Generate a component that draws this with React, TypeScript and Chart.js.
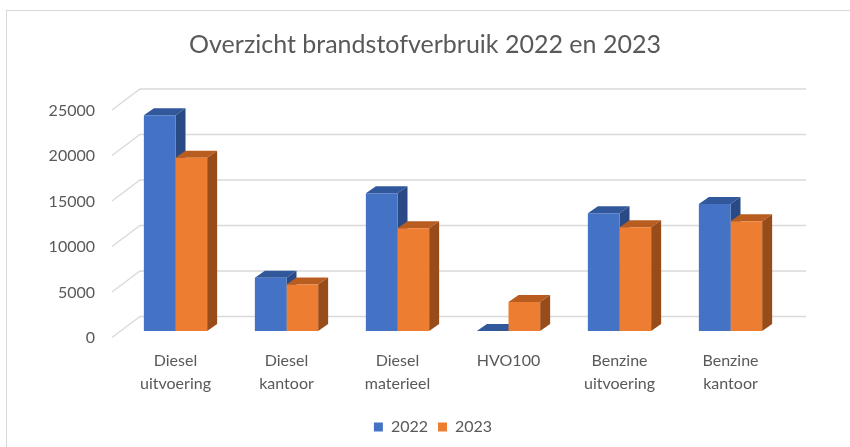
import React, { useEffect, useRef } from "react";
import { Chart, registerables } from "chart.js";

Chart.register(...registerables);

const categories: string[][] = [
  ["Diesel", "uitvoering"],
  ["Diesel", "kantoor"],
  ["Diesel", "materieel"],
  ["HVO100"],
  ["Benzine", "uitvoering"],
  ["Benzine", "kantoor"],
];
const values2022: number[] = [23700, 5850, 15150, 0, 12950, 13950];
const values2023: number[] = [19050, 5100, 11300, 3200, 11400, 12050];
const seriesNames: string[] = ["2022", "2023"];
const yTicks: number[] = [0, 5000, 10000, 15000, 20000, 25000];

const FONT = "Lato, 'Liberation Sans', sans-serif";
const TEXT = "#595959";
const GRID = "#D9D9D9";
const DX = 10;
const DY = -7;
const WALL_FRONT = { x: -8, y: 6.5 };
const WALL_BACK = { x: 20, y: -14.5 };
const LEGEND_SHIFT = 4;
const faceColors = [
  { top: "#30589A", side: "#294A84" },
  { top: "#B95C20", side: "#984C1A" },
];

const threeD = {
  id: "threeD",
  afterLayout(chart: any) {
    const lg = chart.legend;
    if (lg) {
      lg.left += LEGEND_SHIFT * 2;
      lg.right += LEGEND_SHIFT * 2;
    }
  },
  beforeDatasetsDraw(chart: any) {
    const { ctx, chartArea, scales } = chart;
    const ys = scales.y;
    ctx.save();
    ctx.strokeStyle = GRID;
    ctx.lineWidth = 1.3;
    for (const v of yTicks) {
      const py = ys.getPixelForValue(v);
      ctx.beginPath();
      ctx.moveTo(chartArea.left + WALL_FRONT.x, py + WALL_FRONT.y);
      ctx.lineTo(chartArea.left + WALL_BACK.x, py + WALL_BACK.y);
      ctx.lineTo(chartArea.right + WALL_BACK.x, py + WALL_BACK.y);
      ctx.stroke();
    }
    chart.data.datasets.forEach((_ds: any, di: number) => {
      const meta = chart.getDatasetMeta(di);
      meta.data.forEach((el: any) => {
        const p = el.getProps(["x", "y", "base", "width"], true);
        const L = p.x - p.width / 2;
        const R = p.x + p.width / 2;
        const T = Math.min(p.y, p.base);
        const B = Math.max(p.y, p.base);
        ctx.fillStyle = faceColors[di].top;
        ctx.beginPath();
        ctx.moveTo(L, T);
        ctx.lineTo(L + DX, T + DY);
        ctx.lineTo(R + DX, T + DY);
        ctx.lineTo(R, T);
        ctx.closePath();
        ctx.fill();
        ctx.fillStyle = faceColors[di].side;
        ctx.beginPath();
        ctx.moveTo(R, T);
        ctx.lineTo(R + DX, T + DY);
        ctx.lineTo(R + DX, B + DY);
        ctx.lineTo(R, B);
        ctx.closePath();
        ctx.fill();
      });
    });
    ctx.restore();
  },
};

export default function App() {
  const ref = useRef<HTMLCanvasElement>(null);
  useEffect(() => {
    document.body.style.margin = "0";
    const chart = new Chart(ref.current!, {
      type: "bar",
      data: {
        labels: categories,
        datasets: [
          {
            label: seriesNames[0],
            data: values2022,
            backgroundColor: "#4472C4",
            categoryPercentage: 0.57,
            barPercentage: 1,
          },
          {
            label: seriesNames[1],
            data: values2023,
            backgroundColor: "#ED7D31",
            categoryPercentage: 0.57,
            barPercentage: 1,
          },
        ],
      },
      options: {
        animation: false,
        responsive: false,
        maintainAspectRatio: false,
        layout: { padding: { left: 36, right: 36, top: 0, bottom: 2 } },
        plugins: {
          title: {
            display: true,
            text: "Overzicht brandstofverbruik 2022 en 2023",
            color: TEXT,
            font: { family: FONT, size: 25, weight: "normal" },
            padding: { top: 29.5, bottom: 44 },
          },
          legend: {
            position: "bottom",
            labels: {
              color: TEXT,
              font: { family: FONT, size: 16 },
              boxWidth: 9,
              boxHeight: 9,
              padding: 10,
            },
          },
          tooltip: { enabled: false },
        },
        scales: {
          x: {
            grid: { display: false, drawTicks: false },
            border: { display: false },
            ticks: {
              color: TEXT,
              font: { family: FONT, size: 16, lineHeight: 1.4 },
              padding: 19,
              maxRotation: 0,
              autoSkip: false,
            },
            afterFit: (scale: any) => {
              scale.height = 78;
            },
          },
          y: {
            min: 0,
            max: 25000,
            grid: { display: false, drawTicks: false },
            border: { display: false },
            ticks: {
              stepSize: 5000,
              color: TEXT,
              font: { family: FONT, size: 16 },
              padding: 25,
              labelOffset: 7,
              callback: (v: any) => String(v),
            },
            afterFit: (scale: any) => {
              scale.width = 84;
            },
          },
          yRight: {
            type: "linear",
            position: "right",
            display: true,
            grid: { display: false, drawTicks: false },
            border: { display: false },
            ticks: { display: false },
            afterFit: (scale: any) => {
              scale.width = 28;
            },
          },
        },
      },
      plugins: [threeD],
    });
    return () => chart.destroy();
  }, []);
  return (
    <div style={{ position: "relative", width: 850, height: 447, background: "#fff" }}>
      <div
        style={{
          position: "absolute",
          left: 6,
          top: 10,
          right: 0,
          bottom: 0,
          borderLeft: "1.5px solid #D9D9D9",
          borderTop: "1.5px solid #D9D9D9",
          pointerEvents: "none",
        }}
      />
      <canvas ref={ref} width={850} height={447} style={{ display: "block" }} />
    </div>
  );
}
